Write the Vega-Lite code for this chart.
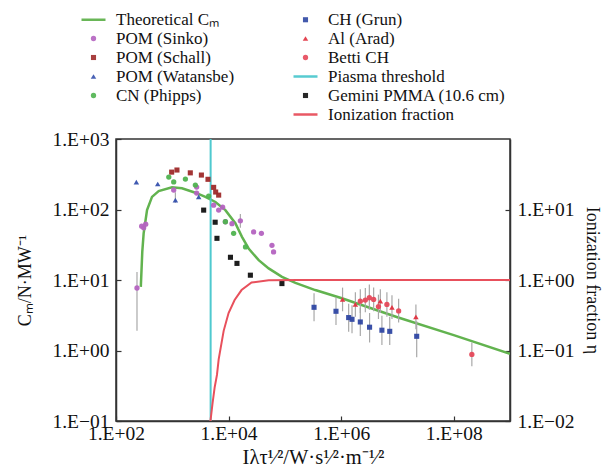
{
  "$schema": "https://vega.github.io/schema/vega-lite/v6.json",
  "width": 394,
  "height": 282,
  "autosize": {"type": "none"},
  "padding": {"left": 116, "top": 139, "right": 95, "bottom": 55},
  "background": "white",
  "config": {
    "view": {"stroke": "#333333", "strokeWidth": 1.5},
    "axis": {
      "grid": false,
      "domainColor": "#333333",
      "domainWidth": 1.5,
      "tickColor": "#333333",
      "tickWidth": 1.2,
      "tickSize": -5,
      "labelFont": "Liberation Serif",
      "labelFontSize": 19.5,
      "labelColor": "#111111",
      "labelFlush": false,
      "labelOverlap": false,
      "titleFont": "Liberation Serif",
      "titleFontSize": 18,
      "titleFontWeight": "normal",
      "titleColor": "#111111"
    },
    "legend": {
      "labelFont": "Liberation Serif",
      "labelFontSize": 17,
      "labelColor": "#111111",
      "labelLimit": 0
    }
  },
  "datasets": {
    "theory": [
      {"x": 276, "y": 8.0}, {"x": 293, "y": 25}, {"x": 310, "y": 46}, {"x": 356, "y": 98},
      {"x": 436, "y": 151}, {"x": 573, "y": 182}, {"x": 988, "y": 206}, {"x": 1486, "y": 200},
      {"x": 2570, "y": 173}, {"x": 3870, "y": 151}, {"x": 5830, "y": 128}, {"x": 8780, "y": 98},
      {"x": 13200, "y": 64}, {"x": 17300, "y": 41}, {"x": 22700, "y": 28}, {"x": 34300, "y": 19.1},
      {"x": 51600, "y": 14.6}, {"x": 89000, "y": 11.1}, {"x": 154000, "y": 9.1}, {"x": 347000, "y": 7.2},
      {"x": 1030000, "y": 5.5}, {"x": 10000000, "y": 2.96}, {"x": 100000000, "y": 1.65}, {"x": 1000000000, "y": 0.9}
    ],
    "threshold": [
      {"x": 4800, "y": 0.1}, {"x": 4800, "y": 1000}
    ],
    "ion": [
      {"x": 4750, "eta": 0.0098}, {"x": 5200, "eta": 0.018}, {"x": 5660, "eta": 0.03},
      {"x": 6220, "eta": 0.045}, {"x": 6670, "eta": 0.075}, {"x": 8180, "eta": 0.19},
      {"x": 10000, "eta": 0.34}, {"x": 12800, "eta": 0.52}, {"x": 17000, "eta": 0.72},
      {"x": 25600, "eta": 0.92}, {"x": 51600, "eta": 0.99}, {"x": 176000, "eta": 1.0},
      {"x": 1000000000, "eta": 1.0}
    ],
    "scatter": [
      {"series": "POM (Sinko)", "x": 236, "y": 7.7, "lo": 1.9, "hi": 13},
      {"series": "POM (Sinko)", "x": 286, "y": 58},
      {"series": "POM (Sinko)", "x": 310, "y": 55},
      {"series": "POM (Sinko)", "x": 337, "y": 62},
      {"series": "POM (Sinko)", "x": 1060, "y": 189},
      {"series": "POM (Sinko)", "x": 2710, "y": 208},
      {"series": "POM (Sinko)", "x": 2710, "y": 171},
      {"series": "POM (Sinko)", "x": 5430, "y": 115},
      {"series": "POM (Sinko)", "x": 6670, "y": 98},
      {"series": "POM (Sinko)", "x": 7850, "y": 108},
      {"series": "POM (Sinko)", "x": 8780, "y": 67},
      {"series": "POM (Sinko)", "x": 11500, "y": 63},
      {"series": "POM (Sinko)", "x": 16200, "y": 69, "lo": 55, "hi": 86},
      {"series": "POM (Sinko)", "x": 27900, "y": 48},
      {"series": "POM (Sinko)", "x": 38300, "y": 46},
      {"series": "POM (Sinko)", "x": 59000, "y": 31},
      {"series": "POM (Sinko)", "x": 63000, "y": 25},
      {"series": "POM (Schall)", "x": 975, "y": 339},
      {"series": "POM (Schall)", "x": 1210, "y": 363},
      {"series": "POM (Schall)", "x": 2090, "y": 331},
      {"series": "POM (Schall)", "x": 3290, "y": 308},
      {"series": "POM (Schall)", "x": 4310, "y": 268},
      {"series": "POM (Schall)", "x": 5430, "y": 206},
      {"series": "POM (Schall)", "x": 5900, "y": 177},
      {"series": "POM (Schall)", "x": 6670, "y": 160},
      {"series": "POM (Watansbe)", "x": 230, "y": 245},
      {"series": "POM (Watansbe)", "x": 551, "y": 230},
      {"series": "POM (Watansbe)", "x": 1135, "y": 136, "lo": 125, "hi": 175},
      {"series": "POM (Watansbe)", "x": 2945, "y": 151},
      {"series": "CN (Phipps)", "x": 867, "y": 288},
      {"series": "CN (Phipps)", "x": 1060, "y": 246},
      {"series": "CN (Phipps)", "x": 1710, "y": 270},
      {"series": "CN (Phipps)", "x": 2570, "y": 222},
      {"series": "CN (Phipps)", "x": 4430, "y": 155},
      {"series": "CN (Phipps)", "x": 8780, "y": 67},
      {"series": "CN (Phipps)", "x": 12300, "y": 46},
      {"series": "CN (Phipps)", "x": 20000, "y": 29.5},
      {"series": "Gemini PMMA (10.6 cm)", "x": 3610, "y": 98},
      {"series": "Gemini PMMA (10.6 cm)", "x": 5780, "y": 66},
      {"series": "Gemini PMMA (10.6 cm)", "x": 6220, "y": 39},
      {"series": "Gemini PMMA (10.6 cm)", "x": 10800, "y": 21},
      {"series": "Gemini PMMA (10.6 cm)", "x": 14100, "y": 17.2},
      {"series": "Gemini PMMA (10.6 cm)", "x": 24400, "y": 11.7},
      {"series": "Gemini PMMA (10.6 cm)", "x": 88700, "y": 8.9},
      {"series": "CH (Grun)", "x": 330000, "y": 4.1, "lo": 2.6, "hi": 6.5},
      {"series": "CH (Grun)", "x": 810000, "y": 3.6, "lo": 2.3, "hi": 5.7},
      {"series": "CH (Grun)", "x": 1360000, "y": 2.93, "lo": 1.85, "hi": 4.6},
      {"series": "CH (Grun)", "x": 1560000, "y": 2.77, "lo": 1.75, "hi": 4.4},
      {"series": "CH (Grun)", "x": 2190000, "y": 2.54, "lo": 1.6, "hi": 4.0},
      {"series": "CH (Grun)", "x": 3200000, "y": 2.14, "lo": 1.3, "hi": 3.4},
      {"series": "CH (Grun)", "x": 5300000, "y": 1.94, "lo": 1.2, "hi": 3.1},
      {"series": "CH (Grun)", "x": 7300000, "y": 1.87, "lo": 1.2, "hi": 3.0},
      {"series": "CH (Grun)", "x": 22000000, "y": 1.59, "lo": 0.8, "hi": 2.6},
      {"series": "Al (Arad)", "x": 1060000, "y": 5.3, "lo": 3.6, "hi": 7.8},
      {"series": "Al (Arad)", "x": 1790000, "y": 4.5, "lo": 3.0, "hi": 6.7},
      {"series": "Al (Arad)", "x": 4970000, "y": 5.0, "lo": 3.4, "hi": 7.4},
      {"series": "Al (Arad)", "x": 8000000, "y": 4.1, "lo": 2.8, "hi": 6.1},
      {"series": "Al (Arad)", "x": 21300000, "y": 3.0, "lo": 2.0, "hi": 4.5},
      {"series": "Betti CH", "x": 2190000, "y": 5.0, "lo": 3.4, "hi": 7.4},
      {"series": "Betti CH", "x": 2690000, "y": 5.2, "lo": 3.5, "hi": 7.7},
      {"series": "Betti CH", "x": 3170000, "y": 5.6, "lo": 3.8, "hi": 8.6},
      {"series": "Betti CH", "x": 3780000, "y": 5.3, "lo": 3.6, "hi": 7.8},
      {"series": "Betti CH", "x": 4600000, "y": 4.2, "lo": 2.8, "hi": 6.2},
      {"series": "Betti CH", "x": 6500000, "y": 4.5, "lo": 3.0, "hi": 6.7},
      {"series": "Betti CH", "x": 10500000, "y": 3.64, "lo": 2.5, "hi": 5.4},
      {"series": "Betti CH", "x": 210000000, "y": 0.88, "lo": 0.6, "hi": 1.3}
    ]
  },
  "encoding": {
    "x": {
      "field": "x",
      "type": "quantitative",
      "scale": {"type": "log", "domain": [100, 1000000000], "nice": false},
      "axis": {
        "values": [100, 10000, 1000000, 100000000],
        "labelExpr": "'1.E' + (round(log(datum.value)/LN10) < 0 ? '−' : '+') + '0' + abs(round(log(datum.value)/LN10))",
        "labelPadding": 8,
        "titlePadding": 5,
        "titleFontSize": 20.5
      },
      "title": "Iλτ¹⁄²/W·s¹⁄²·m⁻¹⁄²"
    }
  },
  "layer": [
    {
      "layer": [
        {
          "data": {"name": "theory"},
          "mark": {"type": "line", "color": "#62b34f", "strokeWidth": 2.5, "clip": true},
          "encoding": {
            "y": {
              "field": "y", "type": "quantitative",
              "scale": {"type": "log", "domain": [0.1, 1000], "nice": false},
              "title": "Cₘ/N·MW⁻¹",
              "axis": {
                "orient": "left",
                "values": [0.1, 1, 10, 100, 1000],
                "labelExpr": "'1.E' + (round(log(datum.value)/LN10) < 0 ? '−' : '+') + '0' + abs(round(log(datum.value)/LN10))",
                "labelPadding": 12,
                "titlePadding": 17
              }
            }
          }
        },
        {
          "data": {"name": "threshold"},
          "mark": {"type": "line", "color": "#4fc9cf", "strokeWidth": 2},
          "encoding": {
            "y": {"field": "y", "type": "quantitative", "title": "Cₘ/N·MW⁻¹"}
          }
        },
        {
          "data": {"name": "scatter"},
          "transform": [{"filter": "isValid(datum.lo)"}],
          "mark": {"type": "rule", "color": "#a8a8a8", "strokeWidth": 1.2},
          "encoding": {
            "y": {"field": "lo", "type": "quantitative", "title": "Cₘ/N·MW⁻¹"},
            "y2": {"field": "hi"}
          }
        },
        {
          "data": {"name": "scatter"},
          "mark": {"type": "point", "opacity": 0.95},
          "encoding": {
            "y": {"field": "y", "type": "quantitative", "title": "Cₘ/N·MW⁻¹"},
            "fill": {
              "field": "series", "type": "nominal",
              "scale": {
                "domain": ["Theoretical Cₘ", "POM (Sinko)", "POM (Schall)", "POM (Watansbe)", "CN (Phipps)", " ", "CH (Grun)", "Al (Arad)", "Betti CH", "Piasma threshold", "Gemini PMMA (10.6 cm)", "Ionization fraction"],
                "range": ["#62b34f", "#b463c0", "#9e2a2a", "#3550ad", "#4fb34f", "rgba(0,0,0,0)", "#2f47a3", "#e0303e", "#e5485a", "#4fc9cf", "#111111", "#e8505c"]
              },
              "legend": {
                "title": null,
                "orient": "none",
                "legendX": -35,
                "legendY": -128,
                "columns": 2,
                "columnPadding": 53,
                "rowPadding": 1,
                "padding": 0,
                "labelFont": "Liberation Serif",
                "labelFontSize": 17,
                "labelColor": "#111111",
                "symbolOffset": 4,
                "labelOffset": 14,
                "labelLimit": 0
              }
            },
            "stroke": {
              "field": "series", "type": "nominal",
              "scale": {
                "domain": ["Theoretical Cₘ", "POM (Sinko)", "POM (Schall)", "POM (Watansbe)", "CN (Phipps)", " ", "CH (Grun)", "Al (Arad)", "Betti CH", "Piasma threshold", "Gemini PMMA (10.6 cm)", "Ionization fraction"],
                "range": ["#62b34f", "#b463c0", "#9e2a2a", "#3550ad", "#4fb34f", "rgba(0,0,0,0)", "#2f47a3", "#e0303e", "#e5485a", "#4fc9cf", "#111111", "#e8505c"]
              }
            },
            "shape": {
              "field": "series", "type": "nominal",
              "scale": {
                "domain": ["Theoretical Cₘ", "POM (Sinko)", "POM (Schall)", "POM (Watansbe)", "CN (Phipps)", " ", "CH (Grun)", "Al (Arad)", "Betti CH", "Piasma threshold", "Gemini PMMA (10.6 cm)", "Ionization fraction"],
                "range": ["M-4,0L4,0", "circle", "square", "triangle-up", "circle", "circle", "square", "triangle-up", "circle", "M-4,0L4,0", "square", "M-4,0L4,0"]
              }
            },
            "size": {
              "field": "series", "type": "nominal",
              "scale": {
                "type": "ordinal",
                "domain": ["Theoretical Cₘ", "POM (Sinko)", "POM (Schall)", "POM (Watansbe)", "CN (Phipps)", " ", "CH (Grun)", "Al (Arad)", "Betti CH", "Piasma threshold", "Gemini PMMA (10.6 cm)", "Ionization fraction"],
                "range": [36, 28, 26, 30, 28, 0, 26, 30, 28, 36, 26, 36]
              }
            },
            "strokeWidth": {
              "field": "series", "type": "nominal",
              "scale": {
                "type": "ordinal",
                "domain": ["Theoretical Cₘ", "POM (Sinko)", "POM (Schall)", "POM (Watansbe)", "CN (Phipps)", " ", "CH (Grun)", "Al (Arad)", "Betti CH", "Piasma threshold", "Gemini PMMA (10.6 cm)", "Ionization fraction"],
                "range": [2.5, 0, 0, 0, 0, 0, 0, 0, 0, 2.5, 0, 2.5]
              }
            }
          }
        }
      ]
    },
    {
      "data": {"name": "ion"},
      "mark": {"type": "line", "color": "#e8505c", "strokeWidth": 2, "clip": true},
      "encoding": {
        "y": {
          "field": "eta", "type": "quantitative",
          "scale": {"type": "log", "domain": [0.01, 100], "nice": false},
          "title": "Ionization fraction η",
          "axis": {
            "orient": "right",
            "values": [0.01, 0.1, 1, 10],
            "labelExpr": "'1.E' + (round(log(datum.value)/LN10) < 0 ? '−' : '+') + '0' + abs(round(log(datum.value)/LN10))",
            "labelPadding": 12,
            "titlePadding": 8
          }
        }
      }
    }
  ],
  "resolve": {"scale": {"y": "independent"}}
}
